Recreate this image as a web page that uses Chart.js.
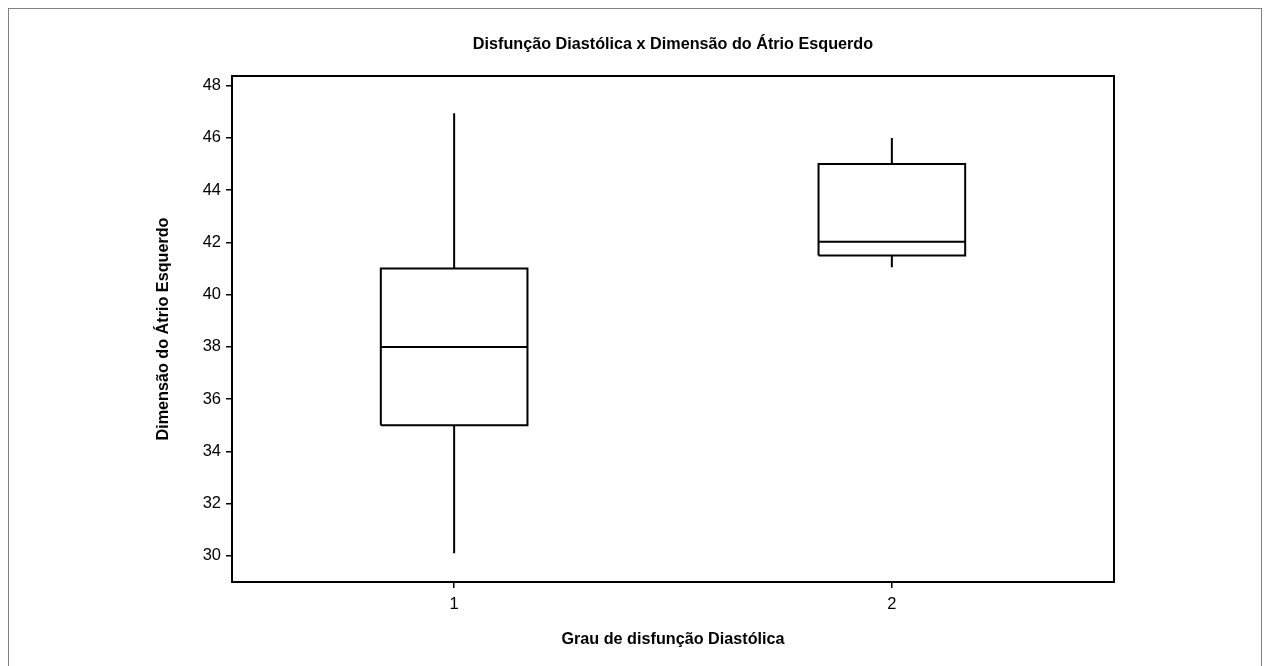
<!DOCTYPE html>
<html>
<head>
<meta charset="utf-8">
<script src="https://cdn.jsdelivr.net/npm/chart.js@4.4.1/dist/chart.umd.min.js"></script>
<style>
  html, body { margin: 0; padding: 0; background: #ffffff; overflow: hidden; }
  #frame { position: absolute; left: 8px; top: 8px; width: 1254px; height: 720px; border: 1px solid #808080; box-sizing: border-box; }
  #c { position: absolute; left: 0; top: 0; }
</style>
</head>
<body>
<div id="frame"></div>
<canvas id="c" width="1264" height="666"></canvas>
<script>
// ---- Data ----
const categories = ['1', '2'];
const positions = [1, 2];
const whiskerLow = [30.1, 41.05];
const q1Values = [35, 41.5];
const medianValues = [38, 42.03];
const q3Values = [41, 45];
const whiskerHigh = [46.95, 46];
const yTicks = [30, 32, 34, 36, 38, 40, 42, 44, 46, 48];

const chartTitle = 'Disfunção Diastólica x Dimensão do Átrio Esquerdo';
const xTitle = 'Grau de disfunção Diastólica';
const yTitle = 'Dimensão do Átrio Esquerdo';

// ---- Build box outlines from the data ----
const halfWidth = 0.1675;
function boxPoints(i) {
  const x = positions[i];
  const gap = { x: x, y: null };
  return [
    { x: x - halfWidth, y: q1Values[i] },
    { x: x + halfWidth, y: q1Values[i] },
    { x: x + halfWidth, y: q3Values[i] },
    { x: x - halfWidth, y: q3Values[i] },
    { x: x - halfWidth, y: q1Values[i] },
    gap,
    { x: x - halfWidth, y: medianValues[i] },
    { x: x + halfWidth, y: medianValues[i] },
    gap,
    { x: x, y: q3Values[i] },
    { x: x, y: whiskerHigh[i] },
    gap,
    { x: x, y: q1Values[i] },
    { x: x, y: whiskerLow[i] }
  ];
}

const datasets = categories.map((c, i) => ({
  label: c,
  data: boxPoints(i),
  showLine: true,
  spanGaps: false,
  borderColor: '#000000',
  borderWidth: 2,
  borderJoinStyle: 'miter',
  borderCapStyle: 'butt',
  pointRadius: 0,
  pointHoverRadius: 0,
  fill: false,
  tension: 0
}));

const FONT = "'Liberation Sans', Arial, sans-serif";

new Chart(document.getElementById('c'), {
  type: 'scatter',
  data: { datasets },
  options: {
    responsive: false,
    animation: false,
    devicePixelRatio: 1,
    layout: { padding: { left: 82, right: 0, top: 0, bottom: 0 } },
    plugins: {
      legend: { display: false },
      tooltip: { enabled: false },
      title: {
        display: true,
        text: chartTitle,
        color: '#000000',
        font: { family: FONT, size: 16.2, weight: 'bold' },
        padding: { top: 35, bottom: 21.6 }
      }
    },
    scales: {
      x: {
        type: 'linear',
        position: 'bottom',
        min: 0.4925,
        max: 2.5075,
        afterBuildTicks: (s) => { s.ticks = positions.map(v => ({ value: v })); },
        afterFit: (s) => { s.height = 84; },
        ticks: {
          color: '#000000',
          font: { family: FONT, size: 16.5 },
          padding: 7,
          callback: (v) => { const i = positions.indexOf(v); return i >= 0 ? categories[i] : ''; }
        },
        grid: { display: true, drawOnChartArea: false, drawTicks: true, tickLength: 6, color: '#000000', lineWidth: 1.5 },
        border: { display: true, color: '#000000', width: 2 },
        title: {
          display: true,
          text: xTitle,
          color: '#000000',
          font: { family: FONT, size: 16.2, weight: 'bold' },
          padding: { top: 0, bottom: 17 }
        }
      },
      y: {
        type: 'linear',
        position: 'left',
        min: 29,
        max: 48.37,
        afterBuildTicks: (s) => { s.ticks = yTicks.map(v => ({ value: v })); },
        afterFit: (s) => { s.width = 150; },
        ticks: {
          color: '#000000',
          font: { family: FONT, size: 16.5 },
          padding: 5
        },
        grid: { display: true, drawOnChartArea: false, drawTicks: true, tickLength: 6, color: '#000000', lineWidth: 1.5 },
        border: { display: true, color: '#000000', width: 2 },
        title: {
          display: true,
          text: yTitle,
          color: '#000000',
          font: { family: FONT, size: 16.2, weight: 'bold' },
          padding: { top: 72, bottom: 0 }
        }
      },
      x2: {
        type: 'linear',
        position: 'top',
        afterFit: (s) => { s.height = 0; },
        ticks: { display: false },
        grid: { display: false },
        border: { display: true, color: '#000000', width: 2 }
      },
      y2: {
        type: 'linear',
        position: 'right',
        afterFit: (s) => { s.width = 150; },
        ticks: { display: false },
        grid: { display: false },
        border: { display: true, color: '#000000', width: 2 }
      }
    }
  }
});
</script>
</body>
</html>
